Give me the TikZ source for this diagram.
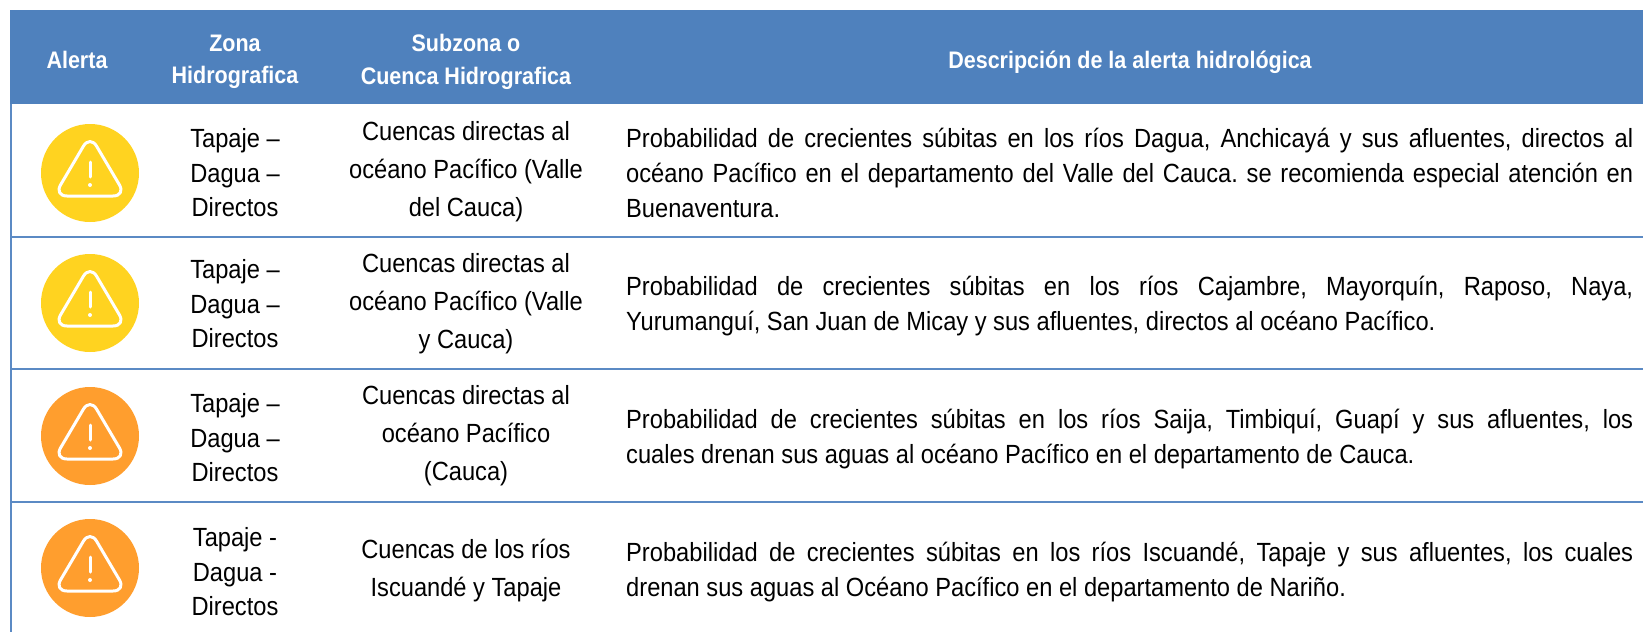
\documentclass[tikz,border=0pt]{standalone}
\usepackage{fontspec}
\setmainfont[FakeStretch=0.9]{Liberation Sans}
\definecolor{hdr}{HTML}{4F81BD}
\definecolor{rule}{HTML}{5B8AC4}
\definecolor{warnY}{HTML}{FFD320}
\definecolor{warnO}{HTML}{FF9E2E}
\tikzset{
  headtxt/.style={text=white,font=\fontsize{23.9}{32.5}\selectfont\bfseries,align=center,inner sep=0pt},
  celltxt/.style={text=black,font=\fontsize{26.3}{34.5}\selectfont,align=center,inner sep=0pt},
  subtxt/.style={text=black,font=\fontsize{26.3}{38}\selectfont,align=center,inner sep=0pt},
  desctxt/.style={text=black,font=\fontsize{26.3}{35}\selectfont\frenchspacing,text width=1007pt,align=justify,inner sep=0pt,anchor=west},
  alertdisc/.style={circle,minimum size=98pt,inner sep=0pt},
  rowrule/.style={draw=rule,line width=2pt},
}
\newcommand{\warnsign}[1]{%
  \draw[white,line width=3pt,rounded corners=13pt,line join=round]
    ([shift={(0,23)}]#1.center) -- ([shift={(36,23)}]#1.center) -- ([shift={(0,-38)}]#1.center) -- ([shift={(-36,23)}]#1.center) -- cycle;
  \draw[white,line width=3pt,line cap=round] ([shift={(0,-11)}]#1.center) -- ([shift={(0,4)}]#1.center);
  \fill[white] ([shift={(0,12)}]#1.center) circle (2pt);
}
\begin{document}
\begin{tikzpicture}[x=1pt,y=-1pt]
\useasboundingbox (0,0) rectangle (1643,632);
\fill[white] (0,0) rectangle (1643,632);
\fill[hdr] (10,10) rectangle (1643,104);
% table rules
\coordinate (topL) at (11,104); \coordinate (botL) at (11,632);
\coordinate (r1L) at (11,237); \coordinate (r1R) at (1643,237);
\coordinate (r2L) at (11,369); \coordinate (r2R) at (1643,369);
\coordinate (r3L) at (11,502); \coordinate (r3R) at (1643,502);
\draw[rowrule] (topL) -- (botL);
\draw[rowrule] (r1L) -- (r1R);
\draw[rowrule] (r2L) -- (r2R);
\draw[rowrule] (r3L) -- (r3R);
% header
\node[headtxt] (h1) at (77,60) {Alerta};
\node[headtxt] (h2) at (235,62) {Zona\\Hidrografica};
\node[headtxt] (h3) at (466,62) {Subzona o\\Cuenca Hidrografica};
\node[headtxt] (h4) at (1130,62) {Descripción de la alerta hidrológica};
% row 1
\node[alertdisc,fill=warnY] (a1) at (90,173) {};
\warnsign{a1}
\node[celltxt] (z1) at (235,173) {Tapaje –\\Dagua –\\Directos};
\node[subtxt] (s1) at (466,172) {Cuencas directas al\\océano Pacífico (Valle\\del Cauca)};
\node[desctxt] (d1) at (626,173) {Probabilidad de crecientes súbitas en los ríos Dagua, Anchicayá y sus afluentes, directos al\linebreak océano Pacífico en el departamento del Valle del Cauca. se recomienda especial atención en\linebreak Buenaventura.};
% row 2
\node[alertdisc,fill=warnY] (a2) at (90,303) {};
\warnsign{a2}
\node[celltxt] (z2) at (235,304) {Tapaje –\\Dagua –\\Directos};
\node[subtxt] (s2) at (466,304) {Cuencas directas al\\océano Pacífico (Valle\\y Cauca)};
\node[desctxt] (d2) at (626,306) {Probabilidad de crecientes súbitas en los ríos Cajambre, Mayorquín, Raposo, Naya,\linebreak Yurumanguí, San Juan de Micay y sus afluentes, directos al océano Pacífico.};
% row 3
\node[alertdisc,fill=warnO] (a3) at (90,436) {};
\warnsign{a3}
\node[celltxt] (z3) at (235,438) {Tapaje –\\Dagua –\\Directos};
\node[subtxt] (s3) at (466,436) {Cuencas directas al\\océano Pacífico\\(Cauca)};
\node[desctxt] (d3) at (626,439) {Probabilidad de crecientes súbitas en los ríos Saija, Timbiquí, Guapí y sus afluentes, los\linebreak cuales drenan sus aguas al océano Pacífico en el departamento de Cauca.};
% row 4
\node[alertdisc,fill=warnO] (a4) at (90,568) {};
\warnsign{a4}
\node[celltxt] (z4) at (235,572) {Tapaje -\\Dagua -\\Directos};
\node[subtxt] (s4) at (466,571) {Cuencas de los ríos\\Iscuandé y Tapaje};
\node[desctxt] (d4) at (626,572) {Probabilidad de crecientes súbitas en los ríos Iscuandé, Tapaje y sus afluentes, los cuales\linebreak drenan sus aguas al Océano Pacífico en el departamento de Nariño.};
\end{tikzpicture}
\end{document}
